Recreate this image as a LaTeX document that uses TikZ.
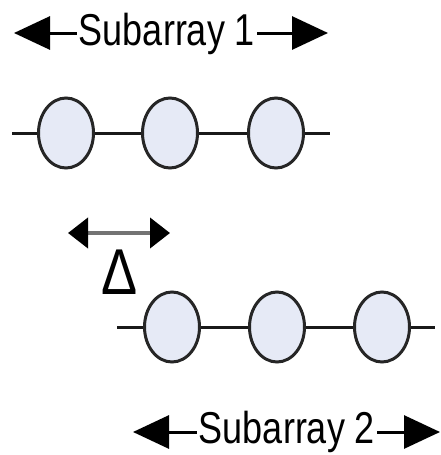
\documentclass[tikz,border=0pt]{standalone}
\usepackage{fontspec}
\setmainfont{Liberation Sans}
\usetikzlibrary{arrows.meta,shapes.geometric}
\definecolor{elemfill}{RGB}{230,234,246}
\begin{document}
\begin{tikzpicture}[x=1pt,y=-1pt,
  elem/.style={ellipse,draw=black!85,line width=3pt,fill=elemfill,minimum width=55pt,minimum height=70pt,inner sep=0pt},
  wire/.style={line width=3pt,black!90},
  lbl/.style={inner sep=0pt,anchor=base},
  bigarrow/.style={line width=3pt,-{Triangle[length=36pt,width=33pt]}},
  deltaarrow/.style={line width=4pt,black!55,{Triangle[length=20pt,width=30pt,color=black]}-{Triangle[length=20pt,width=30pt,color=black]}}
]
\useasboundingbox (0,0) rectangle (441,455);
% top label
\node[lbl] (t1) at (167,45) {\scalebox{1}[1.24]{\fontsize{36}{40}\selectfont Subarray 1}};
\coordinate (t1l) at (14,33);
\coordinate (t1r) at (328,33);
\draw[bigarrow] (t1.west |- t1l) ++(-2,0) -- (t1l);
\draw[bigarrow] (t1.east |- t1r) ++(2,0) -- (t1r);
% row 1
\coordinate (a0) at (12,133);
\node[elem] (a1) at (66,133) {};
\node[elem] (a2) at (170,133) {};
\node[elem] (a3) at (276,133) {};
\coordinate (a4) at (330,133);
\draw[wire] (a0) -- (a1) -- (a2) -- (a3) -- (a4);
% delta
\coordinate (d1) at (68,233);
\coordinate (d2) at (170,233);
\draw[deltaarrow] (d1) -- (d2);
\node[lbl] (dl) at (120,294) {\scalebox{1}[1.2]{\fontsize{54}{60}\selectfont Δ}};
% row 2
\coordinate (b0) at (117,327);
\node[elem] (b1) at (172,327) {};
\node[elem] (b2) at (277,327) {};
\node[elem] (b3) at (382,327) {};
\coordinate (b4) at (435,327);
\draw[wire] (b0) -- (b1) -- (b2) -- (b3) -- (b4);
% bottom label
\node[lbl] (t2) at (287,443) {\scalebox{1}[1.24]{\fontsize{36}{40}\selectfont Subarray 2}};
\coordinate (t2l) at (133,432);
\coordinate (t2r) at (440,432);
\draw[bigarrow] (t2.west |- t2l) ++(-2,0) -- (t2l);
\draw[bigarrow] (t2.east |- t2r) ++(2,0) -- (t2r);
\end{tikzpicture}
\end{document}
